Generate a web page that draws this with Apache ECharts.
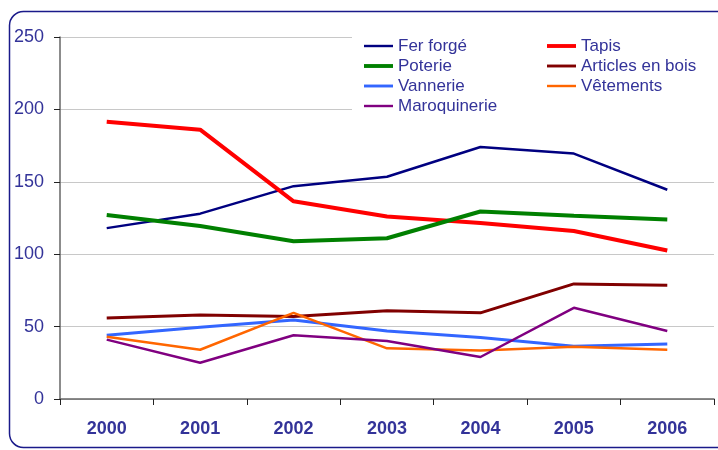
<!DOCTYPE html>
<html>
<head>
<meta charset="utf-8">
<script src="https://cdn.jsdelivr.net/npm/echarts@6/dist/echarts.min.js"></script>
<style>html,body{margin:0;padding:0;background:#fff}#c{width:718px;height:450px}</style>
</head>
<body>
<div id="c"></div>
<script>
var years = ['2000','2001','2002','2003','2004','2005','2006'];
var ferForge = [118, 128, 147, 153.5, 174, 169.5, 144.5];
var tapis = [191.5, 186, 136.5, 126, 121.5, 116, 102.5];
var poterie = [127, 119.5, 109, 111, 129.5, 126.5, 124];
var articlesBois = [56, 58, 57, 61, 59.5, 79.5, 78.5];
var vannerie = [44, 49.5, 54.5, 47, 42.5, 36.5, 38];
var vetements = [43, 34, 59.5, 35, 33.5, 36, 34];
var maroquinerie = [41, 25, 44, 40, 29, 63, 47];
var yTicks = [0, 50, 100, 150, 200, 250];

var names = ['Fer forgé','Tapis','Poterie','Articles en bois','Vannerie','Vêtements','Maroquinerie'];
var datas = [ferForge, tapis, poterie, articlesBois, vannerie, vetements, maroquinerie];
var colors = ['#000080','#ff0000','#008000','#800000','#3366ff','#ff6600','#800080'];
var widths = [2.5, 4, 4, 3, 3, 2.5, 2.5];

var series = names.map(function(n, i){
  return {name: n, type: 'line', data: datas[i], symbol: 'none', showSymbol: false,
    lineStyle: {color: colors[i], width: widths[i]}, itemStyle: {color: colors[i]}, z: 3};
});

function legItem(n){
  var i = names.indexOf(n);
  var h = widths[i];
  return {name: n, icon: 'path://M0,0h30v' + h + 'h-30z', itemStyle: {color: colors[i]}};
}

var legendText = {color: '#333399', fontSize: 17, fontFamily: 'Liberation Sans, Arial, sans-serif', lineHeight: 20};
var chart = echarts.init(document.getElementById('c'), null, {renderer: 'canvas'});
chart.setOption({
  animation: false,
  backgroundColor: '#fff',
  grid: {left: 60, right: 4, top: 37, bottom: 51},
  xAxis: {
    type: 'category', data: years, boundaryGap: true,
    axisLine: {lineStyle: {color: '#666', width: 1.5}},
    axisTick: {show: true, length: 6, lineStyle: {color: '#222'}},
    axisLabel: {color: '#333399', fontSize: 18, fontWeight: 'bold', fontFamily: 'Liberation Sans, Arial, sans-serif', margin: 21}
  },
  yAxis: {
    type: 'value', min: yTicks[0], max: yTicks[yTicks.length-1], interval: 50,
    axisLine: {show: true, lineStyle: {color: '#666', width: 1.5}},
    axisTick: {show: true, length: 6, lineStyle: {color: '#222'}},
    splitLine: {lineStyle: {color: '#c8c8c8', width: 1}},
    axisLabel: {color: '#333399', fontSize: 18, fontFamily: 'Liberation Sans, Arial, sans-serif', margin: 16}
  },
  legend: [
    {data: ['Fer forgé','Poterie','Vannerie','Maroquinerie'].map(legItem), orient: 'vertical', left: 364, top: 36,
     itemWidth: 29, itemHeight: 12, itemGap: 0, padding: 0, symbolKeepAspect: true, textStyle: legendText, z: 6},
    {data: ['Tapis','Articles en bois','Vêtements'].map(legItem), orient: 'vertical', left: 547, top: 36,
     itemWidth: 29, itemHeight: 12, itemGap: 0, padding: 0, symbolKeepAspect: true, textStyle: legendText, z: 6}
  ],
  graphic: [
    {type: 'rect', z: 1, silent: true, shape: {x: 352, y: 28, width: 362, height: 90},
     style: {fill: '#fff', stroke: null}},
    {type: 'rect', z: 0, silent: true, shape: {x: 9.5, y: 11.5, width: 760, height: 436, r: 14},
     style: {fill: null, stroke: '#1a1a8a', lineWidth: 1.5}}
  ],
  series: series
});
</script>
</body>
</html>
